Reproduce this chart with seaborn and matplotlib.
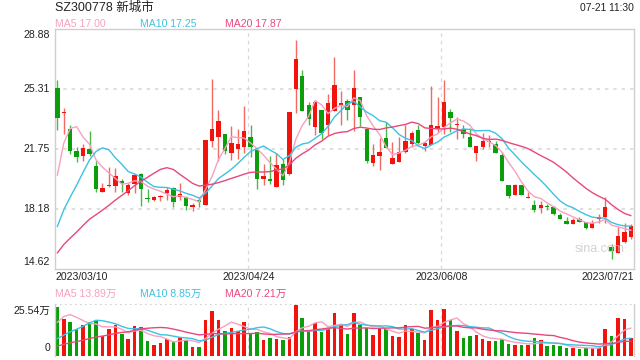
import numpy as np
import pandas as pd
import matplotlib
matplotlib.use("Agg")
import matplotlib.pyplot as plt
import seaborn as sns

# ---------------- data ----------------
opens = [25.36, 23.90, 22.92, 21.63, 21.33, 21.75, 20.74, 19.18, 19.56, 19.57,
         19.85, 19.15, 19.67, 20.26, 18.86, 18.74, 18.90, 19.12, 19.41, 18.92,
         18.88, 18.32, 18.70, 18.45, 22.24, 22.45, 22.64, 21.53, 21.77, 21.85,
         22.46, 21.71, 19.99, 19.97, 19.49, 20.86, 20.28, 25.31, 26.07, 24.35,
         23.06, 24.05, 23.19, 23.99, 24.38, 24.62, 24.35, 24.84, 22.94, 20.92,
         21.35, 22.40, 20.86, 20.98, 21.57, 22.05, 22.88, 21.93, 21.99, 22.94,
         23.08, 23.93, 23.15, 22.94, 22.48, 21.53, 21.85, 22.15, 22.05, 21.39,
         19.61, 19.02, 19.61, 18.82, 18.42, 18.23, 18.38, 18.29, 17.83, 17.49,
         17.29, 17.57, 17.43, 17.07, 17.57, 17.73, 15.91, 15.59, 16.24, 16.50]
highs = [25.85, 24.17, 23.18, 21.85, 22.05, 22.82, 21.05, 19.71, 20.70, 20.60,
         19.95, 19.71, 20.26, 20.30, 19.37, 18.95, 19.00, 19.51, 19.51, 19.73,
         18.94, 18.54, 18.84, 22.30, 25.91, 24.08, 22.64, 23.12, 22.94, 24.32,
         23.16, 21.71, 20.86, 21.32, 21.51, 21.17, 23.92, 28.24, 26.43, 24.54,
         24.68, 24.05, 25.02, 27.22, 25.21, 24.72, 26.43, 24.84, 22.94, 22.05,
         22.40, 23.35, 22.15, 22.44, 23.19, 22.82, 23.18, 22.18, 25.49, 24.86,
         25.85, 24.11, 23.67, 23.18, 22.98, 21.93, 22.72, 22.58, 22.24, 21.59,
         19.61, 19.67, 19.61, 19.21, 18.72, 18.66, 18.48, 18.36, 17.93, 17.73,
         17.63, 17.69, 17.43, 17.53, 17.89, 18.88, 16.10, 17.10, 17.33, 17.29]
lows = [22.88, 22.64, 21.45, 21.00, 21.05, 21.33, 19.21, 19.18, 19.47, 19.21,
        19.21, 19.02, 19.15, 18.36, 18.58, 18.67, 18.68, 18.72, 18.32, 18.70,
        18.15, 18.08, 18.30, 18.40, 21.85, 21.02, 21.45, 21.12, 21.17, 21.51,
        21.26, 19.39, 19.63, 19.67, 19.49, 19.63, 20.22, 23.89, 23.99, 23.19,
        22.60, 22.36, 22.56, 23.99, 23.16, 23.49, 22.80, 23.10, 20.92, 20.72,
        20.52, 21.81, 20.86, 20.98, 21.51, 21.85, 22.05, 21.65, 21.99, 22.78,
        22.64, 22.78, 22.33, 22.39, 21.85, 21.04, 21.73, 21.89, 21.49, 19.87,
        18.82, 19.02, 19.02, 18.82, 18.02, 17.97, 18.12, 17.83, 17.59, 17.29,
        17.29, 17.39, 16.99, 17.07, 17.33, 17.33, 15.20, 15.59, 16.18, 16.38]
closes = [23.61, 23.95, 21.65, 21.29, 21.79, 21.45, 19.36, 19.45, 19.60, 20.15,
          19.75, 19.61, 20.20, 19.36, 18.76, 18.92, 18.96, 19.31, 18.62, 19.09,
          18.35, 18.40, 18.58, 22.30, 22.94, 23.40, 21.65, 22.11, 22.05, 22.80,
          21.89, 19.99, 20.16, 19.87, 20.82, 19.93, 23.92, 27.10, 23.99, 23.55,
          24.54, 22.70, 24.48, 25.53, 24.48, 24.09, 25.37, 23.65, 21.05, 21.41,
          21.57, 21.81, 21.21, 21.55, 22.21, 22.72, 22.12, 22.12, 23.18, 23.12,
          24.52, 23.61, 23.20, 22.62, 21.89, 21.93, 22.24, 22.20, 21.53, 19.87,
          18.96, 19.61, 19.02, 18.88, 18.12, 18.42, 18.29, 17.89, 17.59, 17.29,
          17.53, 17.43, 17.07, 17.37, 17.69, 18.29, 15.69, 16.60, 16.84, 17.17]
# volume in 万 (10k shares)
volumes = [24.2, 18.1, 16.8, 13.1, 15.1, 16.5, 17.1, 9.7, 13.1, 15.1,
           10.6, 8.1, 14.6, 14.3, 7.1, 5.0, 6.2, 8.4, 7.2, 9.2,
           7.6, 4.2, 4.0, 17.6, 22.2, 17.6, 12.1, 13.8, 12.4, 16.6,
           10.6, 11.8, 7.6, 8.7, 8.4, 7.6, 9.2, 25.4, 18.5, 12.3,
           16.0, 11.8, 13.4, 21.3, 15.5, 10.6, 21.3, 15.1, 13.8, 10.1,
           13.8, 13.1, 9.6, 9.2, 15.1, 13.1, 11.4, 7.6, 22.7, 17.6,
           23.2, 17.6, 12.3, 8.9, 9.6, 10.1, 8.1, 7.1, 7.1, 8.4,
           5.5, 5.0, 5.0, 5.0, 8.9, 7.6, 4.5, 5.0, 4.5, 3.9,
           3.9, 3.0, 3.9, 3.7, 3.9, 13.1, 9.6, 18.8, 18.1, 8.9]
# sessions before the visible window (needed by the moving averages)
prior_closes = [13.9, 14.0, 14.1, 13.9, 14.0, 14.1, 14.0, 13.9, 14.0, 14.1,
                14.0, 14.1, 14.2, 14.1, 14.1, 14.4, 17.28, 20.74, 24.89]
prior_volumes = [1.0, 1.1, 0.9, 1.0, 1.2, 0.9, 1.0, 1.0, 0.9, 1.0,
                 0.4, 0.3, 0.4, 0.3, 0.3, 3.3, 12.0, 20.0, 23.0]

title_text = "SZ300778 新城市"
time_text = "07-21 11:30"
ma_names = ["MA5", "MA10", "MA20"]
ma_windows = [5, 10, 20]
price_ma_labels = ["17.00", "17.25", "17.87"]
vol_ma_labels = ["13.89万", "8.85万", "7.21万"]
price_ticks = [28.88, 25.31, 21.75, 18.18, 14.62]
vol_top_label = "25.54万"
vol_max = 25.54
date_labels = ["2023/03/10", "2023/04/24", "2023/06/08", "2023/07/21"]
date_index = [0, 30, 60, 89]

# ---------------- style ----------------
sns.set_theme(style="white")
plt.rcParams["font.family"] = ["Liberation Sans", "Noto Sans CJK SC", "DejaVu Sans"]

RED = "#f2140c"
GREEN = "#0a9e0a"
RED_WICK = "#f26a62"
GREEN_WICK = "#4cb84c"
MA_COLORS = ["#f7a1c1", "#3ec1e2", "#e8487c"]
GRID = "#d9d9d9"
BORDER = "#cfcfcf"
TXT = "#222222"

W, H = 640, 360
fig = plt.figure(figsize=(W / 100, H / 100), dpi=100)
fig.patch.set_facecolor("white")

def fx(px):
    return px / W

def fy(py):
    return 1 - py / H

ax = fig.add_axes([fx(55), fy(269), fx(634) - fx(55), fy(29) - fy(269)])
axv = fig.add_axes([fx(55), fy(355.5), fx(634) - fx(55), fy(304.3) - fy(355.5)])

n = len(closes)
idx = np.arange(n)
o = np.array(opens); c = np.array(closes)
hi = np.array(highs); lo = np.array(lows)
up = c >= o
cols = np.where(up, RED, GREEN)
wick_cols = np.where(up, RED_WICK, GREEN_WICK)

# moving averages
all_c = pd.Series(prior_closes + closes)
all_v = pd.Series(prior_volumes + volumes)
k = len(prior_closes)
for name, w, colr in zip(ma_names, ma_windows, MA_COLORS):
    ma = all_c.rolling(w).mean().iloc[k:].to_numpy()
    sns.lineplot(x=idx, y=ma, ax=ax, color=colr, linewidth=1.0, zorder=4)
    mav = all_v.rolling(w).mean().iloc[k:].to_numpy()
    sns.lineplot(x=idx, y=mav, ax=axv, color=colr, linewidth=1.0, zorder=4)

# candles
ax.vlines(idx, lo, hi, colors=wick_cols, linewidth=1.0, zorder=2)
body_h = np.maximum(np.abs(c - o), 0.06)
ax.bar(idx, body_h, bottom=np.minimum(o, c), width=0.68, color=cols,
       linewidth=0, zorder=3)

# volume bars
axv.bar(idx, volumes, width=0.55, color=cols, linewidth=0, zorder=2)

xmin, xmax = -0.36, 89.47
for a in (ax, axv):
    a.set_xlim(xmin, xmax)
    a.set_xticks([]); a.set_yticks([])
    a.set_xlabel(""); a.set_ylabel("")
    a.set_facecolor("white")
    for i in date_index[1:3]:
        a.axvline(i - 0.4, color=GRID, linewidth=0.9, linestyle=(0, (3, 3)), zorder=1)

ax.set_ylim(price_ticks[-1], price_ticks[0])
for t in price_ticks[1:-1]:
    ax.axhline(t, color=GRID, linewidth=1.2, linestyle=(0, (2, 3)), zorder=1)
for s in ["left", "top", "bottom", "right"]:
    ax.spines[s].set_color(BORDER)
    ax.spines[s].set_linewidth(1.0)

axv.set_ylim(0, vol_max)
for s in ["left", "right"]:
    axv.spines[s].set_color(BORDER)
    axv.spines[s].set_linewidth(1.0)
axv.spines["bottom"].set_visible(False)
axv.spines["top"].set_visible(False)
axv.axhline(vol_max, color="#c8c8c8", linewidth=1.2, linestyle=(0, (1, 2)), zorder=1)

# texts
fig.text(fx(55), fy(8), title_text, fontsize=9, color=TXT, va="center", ha="left")
fig.text(fx(634), fy(8), time_text, fontsize=7.4, color=TXT, va="center", ha="right")
ma_x = [55, 140, 225]
for name, lab, colr, x0 in zip(ma_names, price_ma_labels, MA_COLORS, ma_x):
    fig.text(fx(x0), fy(24), f"{name} {lab}", fontsize=7.6, color=colr, va="center", ha="left")
for name, lab, colr, x0 in zip(ma_names, vol_ma_labels, MA_COLORS, ma_x):
    fig.text(fx(x0), fy(294), f"{name} {lab}", fontsize=7.6, color=colr, va="center", ha="left")

# price y labels (placement as in the reference)
ypix = [35, 89, 149, 209, 262]
for t, yp in zip(price_ticks, ypix):
    fig.text(fx(50), fy(yp), f"{t:.2f}", fontsize=7.6, color=TXT, va="center", ha="right")
fig.text(fx(50), fy(311), vol_top_label, fontsize=7.6, color=TXT, va="center", ha="right")
fig.text(fx(50), fy(348), "0", fontsize=7.6, color=TXT, va="center", ha="right")

# date labels
date_x = [55, 248.5, 441.3, 634]
date_ha = ["left", "center", "center", "right"]
for lab, x0, ha in zip(date_labels, date_x, date_ha):
    fig.text(fx(x0), fy(277), lab, fontsize=7.6, color=TXT, va="center", ha=ha)

# watermark
ax.text(0.94, 0.083, "sina.com", transform=ax.transAxes, fontsize=9,
        color="#c8c8c8", alpha=0.8, ha="center", va="center", zorder=5)

fig.savefig("out.png", dpi=100, facecolor="white")
